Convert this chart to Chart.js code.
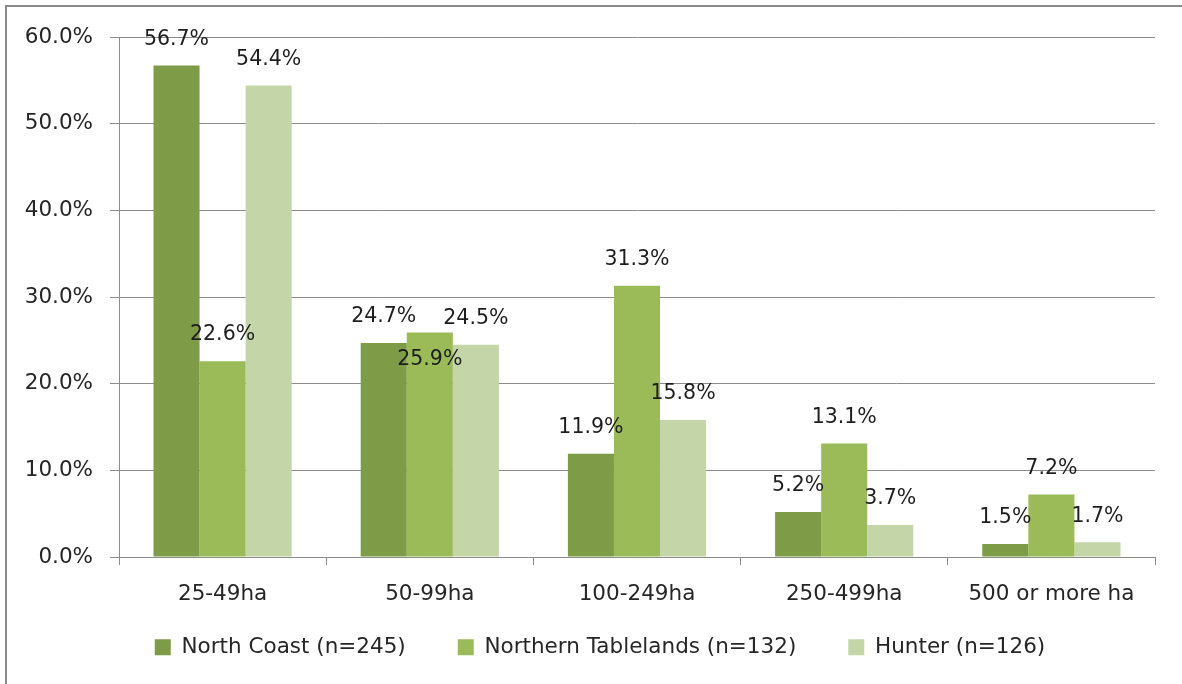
<!DOCTYPE html>
<html><head><meta charset="utf-8">
<script src="https://cdn.jsdelivr.net/npm/chart.js@4.4.1/dist/chart.umd.min.js"></script>
<style>
html,body{margin:0;padding:0;background:#fff;overflow:hidden;width:1182px;height:684px;}
#frame{position:absolute;left:5px;top:5px;width:1400px;height:900px;border-left:2px solid #8a8a8a;border-top:2px solid #8a8a8a;}
#wrap{position:absolute;left:0;top:0;width:1182px;height:684px;}
</style></head><body>
<div id="frame"></div>
<div id="wrap"><canvas id="c" width="1182" height="684"></canvas></div>
<script>
const categories = ['25-49ha', '50-99ha', '100-249ha', '250-499ha', '500 or more ha'];
const seriesNames = ['North Coast (n=245)', 'Northern Tablelands (n=132)', 'Hunter (n=126)'];
const northCoast = [56.7, 24.7, 11.9, 5.2, 1.5];
const northernTablelands = [22.6, 25.9, 31.3, 13.1, 7.2];
const hunter = [54.4, 24.5, 15.8, 3.7, 1.7];
const yTickLabels = ['0.0%', '10.0%', '20.0%', '30.0%', '40.0%', '50.0%', '60.0%'];

const FONT = 'DejaVu Sans';
const TXT = '#262626';
const GRID = '#8c8c8c';

const labelPlugin = {
  id: 'barLabels',
  afterLayout(chart) {
    // let axis labels draw outside their (deliberately tight) boxes
    chart.scales.y.left = 0;
    chart.scales.x.bottom = chart.height;
  },
  afterDatasetsDraw(chart) {
    const ctx = chart.ctx;
    ctx.save();
    ctx.font = '20.5px "' + FONT + '"';
    ctx.fillStyle = '#1e1e1e';
    ctx.textAlign = 'center';
    ctx.textBaseline = 'middle';
    const placed = [];
    chart.data.datasets.forEach((ds, di) => {
      const meta = chart.getDatasetMeta(di);
      meta.data.forEach((bar, i) => {
        const txt = ds.data[i].toFixed(1) + '%';
        const w = ctx.measureText(txt).width, h = 16;
        let y = bar.y - 26;
        const hit = b => Math.abs(b.x - bar.x) < (b.w + w) / 2 && Math.abs(b.y - y) < h;
        if (placed.some(hit)) y = bar.y + 27;
        placed.push({x: bar.x, y: y, w: w});
        ctx.fillText(txt, bar.x, y);
      });
    });
    ctx.restore();
  }
};

const colors = ['#7e9b48', '#9bbb59', '#c4d6a8'];
const seriesData = [northCoast, northernTablelands, hunter];

new Chart(document.getElementById('c'), {
  type: 'bar',
  data: {
    labels: categories,
    datasets: seriesData.map((d, k) => ({
      label: seriesNames[k],
      data: d,
      backgroundColor: colors[k],
      borderWidth: 0,
      categoryPercentage: 0.667,
      barPercentage: 1.0
    }))
  },
  options: {
    responsive: false,
    animation: false,
    layout: {padding: {left: 45, right: 27, top: 37, bottom: 16}},
    plugins: {
      tooltip: {enabled: false},
      legend: {
        position: 'bottom',
        labels: {
          boxWidth: 16, boxHeight: 16, padding: 52,
          color: TXT,
          font: {family: FONT, size: 21.5}
        }
      }
    },
    scales: {
      x: {
        ticks: {color: TXT, font: {family: FONT, size: 21.5}, padding: 17},
        grid: {drawOnChartArea: false, drawTicks: true, tickLength: 8, color: GRID, offset: true},
        border: {color: GRID, width: 1},
        afterFit(s) { s.height = 27.5; }
      },
      y: {
        min: 0, max: 60,
        ticks: {stepSize: 10, color: TXT, font: {family: FONT, size: 21.5}, padding: 17,
          callback: (v, i) => yTickLabels[i]},
        grid: {color: GRID, lineWidth: 1, tickLength: 9},
        border: {color: GRID, width: 1},
        afterFit(s) { s.width = 74; }
      }
    }
  },
  plugins: [labelPlugin]
});
</script>
</body></html>
